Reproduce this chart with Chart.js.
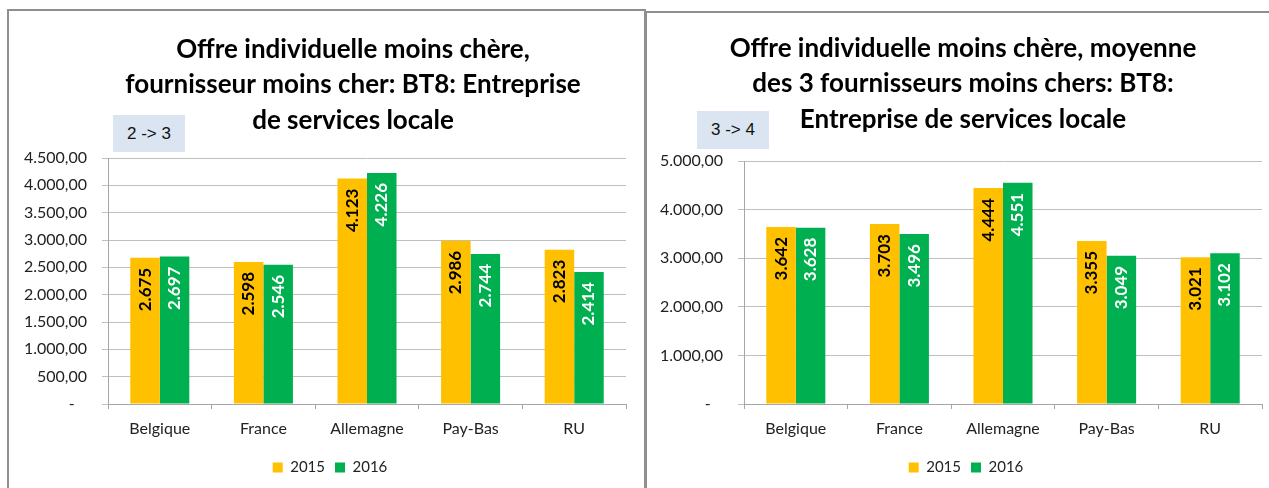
<!DOCTYPE html>
<html>
<head>
<meta charset="utf-8">
<script src="https://cdn.jsdelivr.net/npm/chart.js@4.4.1/dist/chart.umd.min.js"></script>
<style>
    html, body { margin: 0; padding: 0; background: #fff; width: 1269px; height: 488px; overflow: hidden; }
    .panel { position: absolute; box-sizing: border-box; }
    #panel-left { left: 7px; top: 9px; width: 639px; height: 500px; border: 2px solid #8f8f8f; }
    #panel-right { left: 645px; top: 11px; width: 700px; height: 500px; border-top: 2px solid #8f8f8f; border-left: 2px solid #8f8f8f; }
    .wrap { position: absolute; }
    .badge {
        position: absolute; background: #dbe5f1; color: #111;
        font: 17px "Liberation Sans", Arial, sans-serif;
        display: flex; align-items: center; justify-content: center;
    }
</style>
</head>
<body>
<div class="panel" id="panel-left"></div>
<div class="panel" id="panel-right"></div>

<div class="wrap" style="left:10px; top:11px; width:634px; height:477px;">
    <canvas id="chart-left"></canvas>
</div>
<div class="wrap" style="left:648px; top:13px; width:621px; height:475px;">
    <canvas id="chart-right"></canvas>
</div>

<div class="badge" style="left:113px; top:115px; width:72px; height:37px;">2 -&gt; 3</div>
<div class="badge" style="left:697px; top:111px; width:72px; height:38px;">3 -&gt; 4</div>

<script>
const countries = ['Belgique', 'France', 'Allemagne', 'Pay-Bas', 'RU'];
const years = ['2015', '2016'];

// cheapest supplier
const left2015 = [2675, 2598, 4123, 2986, 2823];
const left2016 = [2697, 2546, 4226, 2744, 2414];

// average of the 3 cheapest suppliers
const right2015 = [3642, 3703, 4444, 3355, 3021];
const right2016 = [3628, 3496, 4551, 3049, 3102];

const leftTitle = ['Offre individuelle moins chère,', 'fournisseur moins cher: BT8: Entreprise', 'de services locale'];
const rightTitle = ['Offre individuelle moins chère, moyenne', 'des 3 fournisseurs moins chers: BT8:', 'Entreprise de services locale'];

const FONT = 'Lato, "DejaVu Sans", sans-serif';

function thousands(n) {
    return String(Math.round(n)).replace(/\B(?=(\d{3})+(?!\d))/g, '.');
}

function axisLabel(v) {
    if (v === 0) return '-   ';
    return thousands(v) + ',00';
}

// draws the 3 line title, centred at a given x
const panelTitle = {
    id: 'panelTitle',
    afterDraw(chart, args, opts) {
        const ctx = chart.ctx;
        ctx.save();
        ctx.font = 'bold 26px ' + FONT;
        ctx.fillStyle = '#000';
        ctx.textAlign = 'center';
        ctx.textBaseline = 'middle';
        opts.lines.forEach((line, i) => {
            ctx.fillText(line, opts.x, opts.y + i * opts.lineHeight);
        });
        ctx.restore();
    }
};

// nudge the legend sideways (it is centred under the whole panel in Excel)
const legendShift = {
    id: 'legendShift',
    afterLayout(chart, args, opts) {
        if (chart.legend) {
            chart.legend.left += opts.dx;
            chart.legend.right += opts.dx;
        }
    }
};

// rotated values inside the top of each bar
const barValues = {
    id: 'barValues',
    afterDatasetsDraw(chart) {
        const ctx = chart.ctx;
        ctx.save();
        ctx.font = 'bold 17px ' + FONT;
        ctx.textAlign = 'right';
        ctx.textBaseline = 'middle';
        chart.data.datasets.forEach((ds, di) => {
            const meta = chart.getDatasetMeta(di);
            meta.data.forEach((bar, i) => {
                ctx.save();
                ctx.translate(bar.x, bar.y + 10);
                ctx.rotate(-Math.PI / 2);
                ctx.fillStyle = ds.labelColor;
                ctx.fillText(thousands(ds.data[i]), 0, 0);
                ctx.restore();
            });
        });
        ctx.restore();
    }
};

function createChart(el, values2015, values2016, yMax, yStep, title, pad, yWidth, titlePos, legendDx) {
    return new Chart(el, {
        type: 'bar',
        data: {
            labels: countries,
            datasets: [{
                label: years[0],
                data: values2015,
                backgroundColor: '#ffc000',
                labelColor: '#000',
            }, {
                label: years[1],
                data: values2016,
                backgroundColor: '#00b050',
                labelColor: '#fff',
            }]
        },
        options: {
            responsive: true,
            maintainAspectRatio: false,
            animation: false,
            barPercentage: 1,
            categoryPercentage: 0.57,
            layout: {
                padding: pad,
            },
            scales: {
                x: {
                    afterFit: (scale) => { scale.height = 46; },
                    grid: {
                        drawOnChartArea: false,
                        drawTicks: true,
                        tickLength: 5,
                        color: '#a6a6a6',
                    },
                    border: { color: '#a6a6a6' },
                    ticks: {
                        color: '#222',
                        padding: 10,
                        font: { family: FONT, size: 16 },
                    }
                },
                y: {
                    min: 0,
                    max: yMax,
                    afterFit: (scale) => { scale.width = yWidth; },
                    grid: {
                        color: '#bfbfbf',
                        tickLength: 6,
                    },
                    border: { color: '#a6a6a6' },
                    ticks: {
                        stepSize: yStep,
                        color: '#222',
                        padding: 15,
                        font: { family: FONT, size: 16 },
                        callback: (v) => axisLabel(v),
                    }
                }
            },
            plugins: {
                legend: {
                    position: 'bottom',
                    labels: {
                        boxWidth: 10,
                        boxHeight: 10,
                        padding: 10,
                        color: '#222',
                        font: { family: FONT, size: 15 },
                    }
                },
                tooltip: { enabled: false },
                legendShift: { dx: legendDx },
                panelTitle: {
                    lines: title,
                    x: titlePos.x,
                    y: titlePos.y,
                    lineHeight: 35.5,
                }
            }
        },
        plugins: [panelTitle, barValues, legendShift]
    });
}

createChart(
    document.getElementById('chart-left'),
    left2015, left2016, 4500, 500, leftTitle,
    { top: 147, left: 0, right: 18, bottom: 3 }, 98,
    { x: 343, y: 38.5 }, 12
);

createChart(
    document.getElementById('chart-right'),
    right2015, right2016, 5000, 1000, rightTitle,
    { top: 148, left: 0, right: 7, bottom: 3 }, 96,
    { x: 315, y: 35.5 }, 11
);
</script>
</body>
</html>
